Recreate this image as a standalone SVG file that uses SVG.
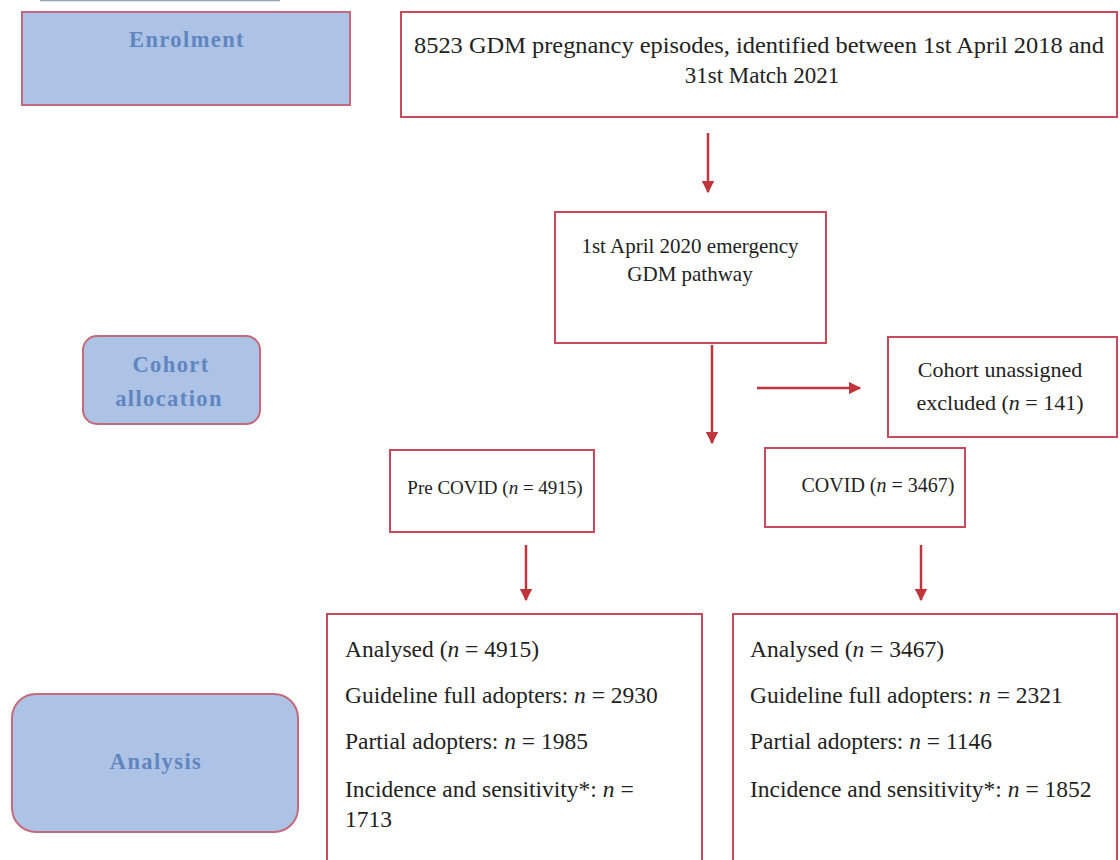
<svg xmlns="http://www.w3.org/2000/svg" width="1120" height="860" viewBox="0 0 1120 860">
  <defs>
    <marker id="arrow" viewBox="0 0 10 10" refX="9" refY="5" markerWidth="5" markerHeight="5" orient="auto" markerUnits="strokeWidth">
      <path d="M0,0 L10,5 L0,10 z" fill="#c0343c"/>
    </marker>
    <style>
      .stage { fill: #adc3e5; stroke: #c46a7c; stroke-width: 2; }
      .stage-label { font-family: "Liberation Serif", "Times New Roman", serif; font-weight: bold; font-size: 22.5px; fill: #6085c0; letter-spacing: 1.4px; text-anchor: middle; }
      .box { fill: #ffffff; stroke: #c84a5c; stroke-width: 2; }
      .txt { font-family: "Liberation Serif", "Times New Roman", serif; font-size: 22px; fill: #222222; }
      .t23 { font-size: 23px; }
      .t21 { font-size: 21px; }
      .t20 { font-size: 20px; }
      .t19 { font-size: 19px; }
      .big { font-size: 23.5px; }
      .mid { text-anchor: middle; }
      .conn { stroke: #c0343c; stroke-width: 2.5; fill: none; marker-end: url(#arrow); }
      .i { font-style: italic; }
    </style>
  </defs>

  <rect width="1120" height="860" fill="#ffffff"/>
  <line x1="40" y1="0.5" x2="280" y2="0.5" stroke="#9aa3bb" stroke-width="1.5"/>

  <!-- stage labels on the left -->
  <g id="stage-enrolment">
    <rect class="stage" x="22" y="12" width="328" height="93"/>
    <text class="stage-label" x="187" y="47">Enrolment</text>
  </g>
  <g id="stage-cohort">
    <rect class="stage" x="83" y="336" width="177" height="88" rx="14"/>
    <text class="stage-label" x="171" y="372">Cohort</text>
    <text class="stage-label" x="169" y="406">allocation</text>
  </g>
  <g id="stage-analysis">
    <rect class="stage" x="12" y="694" width="286" height="138" rx="24"/>
    <text class="stage-label" x="156" y="769">Analysis</text>
  </g>

  <!-- flow boxes -->
  <g id="node-episodes">
    <rect class="box" x="401" y="12" width="716" height="105"/>
    <text class="txt t23 mid" x="759" y="53" textLength="690" lengthAdjust="spacingAndGlyphs">8523 GDM pregnancy episodes, identified between 1st April 2018 and</text>
    <text class="txt t23 mid" x="762" y="83">31st Match 2021</text>
  </g>
  <g id="node-pathway">
    <rect class="box" x="555" y="212" width="271" height="131"/>
    <text class="txt t21 mid" x="690" y="253">1st April 2020 emergency</text>
    <text class="txt t21 mid" x="690" y="281">GDM pathway</text>
  </g>
  <g id="node-excluded">
    <rect class="box" x="888" y="337" width="229" height="100"/>
    <text class="txt mid" x="1000" y="377">Cohort unassigned</text>
    <text class="txt mid" x="1000" y="410">excluded (<tspan class="i">n</tspan> = 141)</text>
  </g>
  <g id="node-precovid">
    <rect class="box" x="390" y="450" width="204" height="82"/>
    <text class="txt t19 mid" x="495" y="494">Pre COVID (<tspan class="i">n</tspan> = 4915)</text>
  </g>
  <g id="node-covid">
    <rect class="box" x="765" y="448" width="200" height="79"/>
    <text class="txt t20 mid" x="878" y="492">COVID (<tspan class="i">n</tspan> = 3467)</text>
  </g>
  <g id="node-analysis-pre">
    <rect class="box" x="327" y="614" width="375" height="260"/>
    <text class="txt big" x="345" y="657">Analysed (<tspan class="i">n</tspan> = 4915)</text>
    <text class="txt big" x="345" y="703">Guideline full adopters: <tspan class="i">n</tspan> = 2930</text>
    <text class="txt big" x="345" y="749">Partial adopters: <tspan class="i">n</tspan> = 1985</text>
    <text class="txt big" x="345" y="797">Incidence and sensitivity*: <tspan class="i">n</tspan> =</text>
    <text class="txt big" x="345" y="827">1713</text>
  </g>
  <g id="node-analysis-covid">
    <rect class="box" x="733" y="614" width="384" height="260"/>
    <text class="txt big" x="750" y="657">Analysed (<tspan class="i">n</tspan> = 3467)</text>
    <text class="txt big" x="750" y="703">Guideline full adopters: <tspan class="i">n</tspan> = 2321</text>
    <text class="txt big" x="750" y="749">Partial adopters: <tspan class="i">n</tspan> = 1146</text>
    <text class="txt big" x="750" y="797">Incidence and sensitivity*: <tspan class="i">n</tspan> = 1852</text>
  </g>

  <!-- connectors -->
  <g id="connectors">
    <line class="conn" x1="708" y1="133" x2="708" y2="192"/>
    <line class="conn" x1="712" y1="345" x2="712" y2="443"/>
    <line class="conn" x1="757" y1="388" x2="860" y2="388"/>
    <line class="conn" x1="526" y1="545" x2="526" y2="600"/>
    <line class="conn" x1="921" y1="545" x2="921" y2="600"/>
  </g>
</svg>
